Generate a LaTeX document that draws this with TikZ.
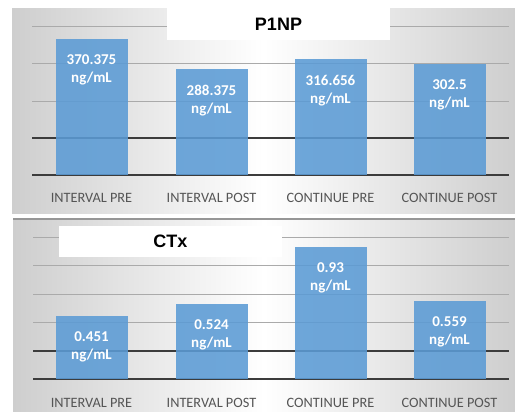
\documentclass[tikz,border=0pt]{standalone}
\usepackage{fontspec}
\setmainfont{Carlito}
\newfontfamily\titlefont{Liberation Sans}

\definecolor{barblue}{RGB}{91,155,213}
\definecolor{panelgrey}{RGB}{206,206,206}
\definecolor{gridlight}{RGB}{170,170,170}
\definecolor{griddark}{RGB}{60,60,60}
\definecolor{cattext}{RGB}{85,85,85}
\definecolor{sepgrey}{RGB}{150,150,150}

\tikzset{
  panel/.style={draw=none, left color=panelgrey, right color=panelgrey, middle color=white},
  gridminor/.style={draw=gridlight, line width=1pt},
  gridmajor/.style={draw=griddark, line width=1.4pt},
  bar/.style={fill=barblue, fill opacity=0.88, draw=none, minimum width=72pt,
              inner sep=0, anchor=south},
  barval/.style={text=white, font=\fontsize{15}{18}\selectfont\bfseries,
                 align=center, anchor=north, inner sep=0},
  cat/.style={text=cattext, font=\fontsize{14.3}{16}\selectfont, inner sep=0},
  titlebox/.style={fill=white, draw=none, minimum width=223pt, inner sep=0,
                   font=\titlefont\fontsize{18}{20}\selectfont\bfseries},
}

\begin{document}
\begin{tikzpicture}[x=1pt, y=-1pt]
  \useasboundingbox (0,0) rectangle (515,412);

  % ---------- P1NP panel ----------
  \path[panel] (12,9) rectangle (515,213);
  \foreach \yy in {27,64,102} \draw[gridminor] (32,\yy) -- (509,\yy);
  \foreach \yy in {138,175} \draw[gridmajor] (32,\yy) -- (509,\yy);
  \node[titlebox, minimum height=32pt] (ptitle) at (278.5,24.5) {P1NP};

  \node[bar, minimum height=136pt] (pa) at (91.5,175) {};
  \node[bar, minimum height=106pt] (pb) at (211.5,175) {};
  \node[bar, minimum height=116pt] (pc) at (330.5,175) {};
  \node[bar, minimum height=111pt] (pd) at (449.5,175) {};

  \node[barval] (pav) at ([yshift=-16pt]pa.north) {370.375\\ng/mL};
  \node[barval] (pbv) at ([yshift=-16pt]pb.north) {288.375\\ng/mL};
  \node[barval] (pcv) at ([yshift=-16pt]pc.north) {316.656\\ng/mL};
  \node[barval] (pdv) at ([yshift=-16pt]pd.north) {302.5\\ng/mL};

  \node[cat] (pac) at (91.5,198) {INTERVAL PRE};
  \node[cat] (pbc) at (211.5,198) {INTERVAL POST};
  \node[cat] (pcc) at (330.5,198) {CONTINUE PRE};
  \node[cat] (pdc) at (449.5,198) {CONTINUE POST};

  % ---------- CTx panel ----------
  \path[panel] (13,218) rectangle (515,412);
  \draw[draw=sepgrey, line width=1.2pt] (13,219) -- (515,219);
  \foreach \yy in {237,265,294,322} \draw[gridminor] (33,\yy) -- (509,\yy);
  \foreach \yy in {351,379} \draw[gridmajor] (33,\yy) -- (509,\yy);
  \node[titlebox, minimum height=31pt] (ctitle) at (170.5,241.5) {CTx};

  \node[bar, minimum height=63pt] (ca) at (91.5,379) {};
  \node[bar, minimum height=75pt] (cb) at (211.5,379) {};
  \node[bar, minimum height=132pt] (cc) at (330.5,379) {};
  \node[bar, minimum height=78pt] (cd) at (449.5,379) {};

  \node[barval] (cav) at ([yshift=-16pt]ca.north) {0.451\\ng/mL};
  \node[barval] (cbv) at ([yshift=-16pt]cb.north) {0.524\\ng/mL};
  \node[barval] (ccv) at ([yshift=-16pt]cc.north) {0.93\\ng/mL};
  \node[barval] (cdv) at ([yshift=-16pt]cd.north) {0.559\\ng/mL};

  \node[cat] (cac) at (91.5,403) {INTERVAL PRE};
  \node[cat] (cbc) at (211.5,403) {INTERVAL POST};
  \node[cat] (ccc) at (330.5,403) {CONTINUE PRE};
  \node[cat] (cdc) at (449.5,403) {CONTINUE POST};
\end{tikzpicture}
\end{document}
